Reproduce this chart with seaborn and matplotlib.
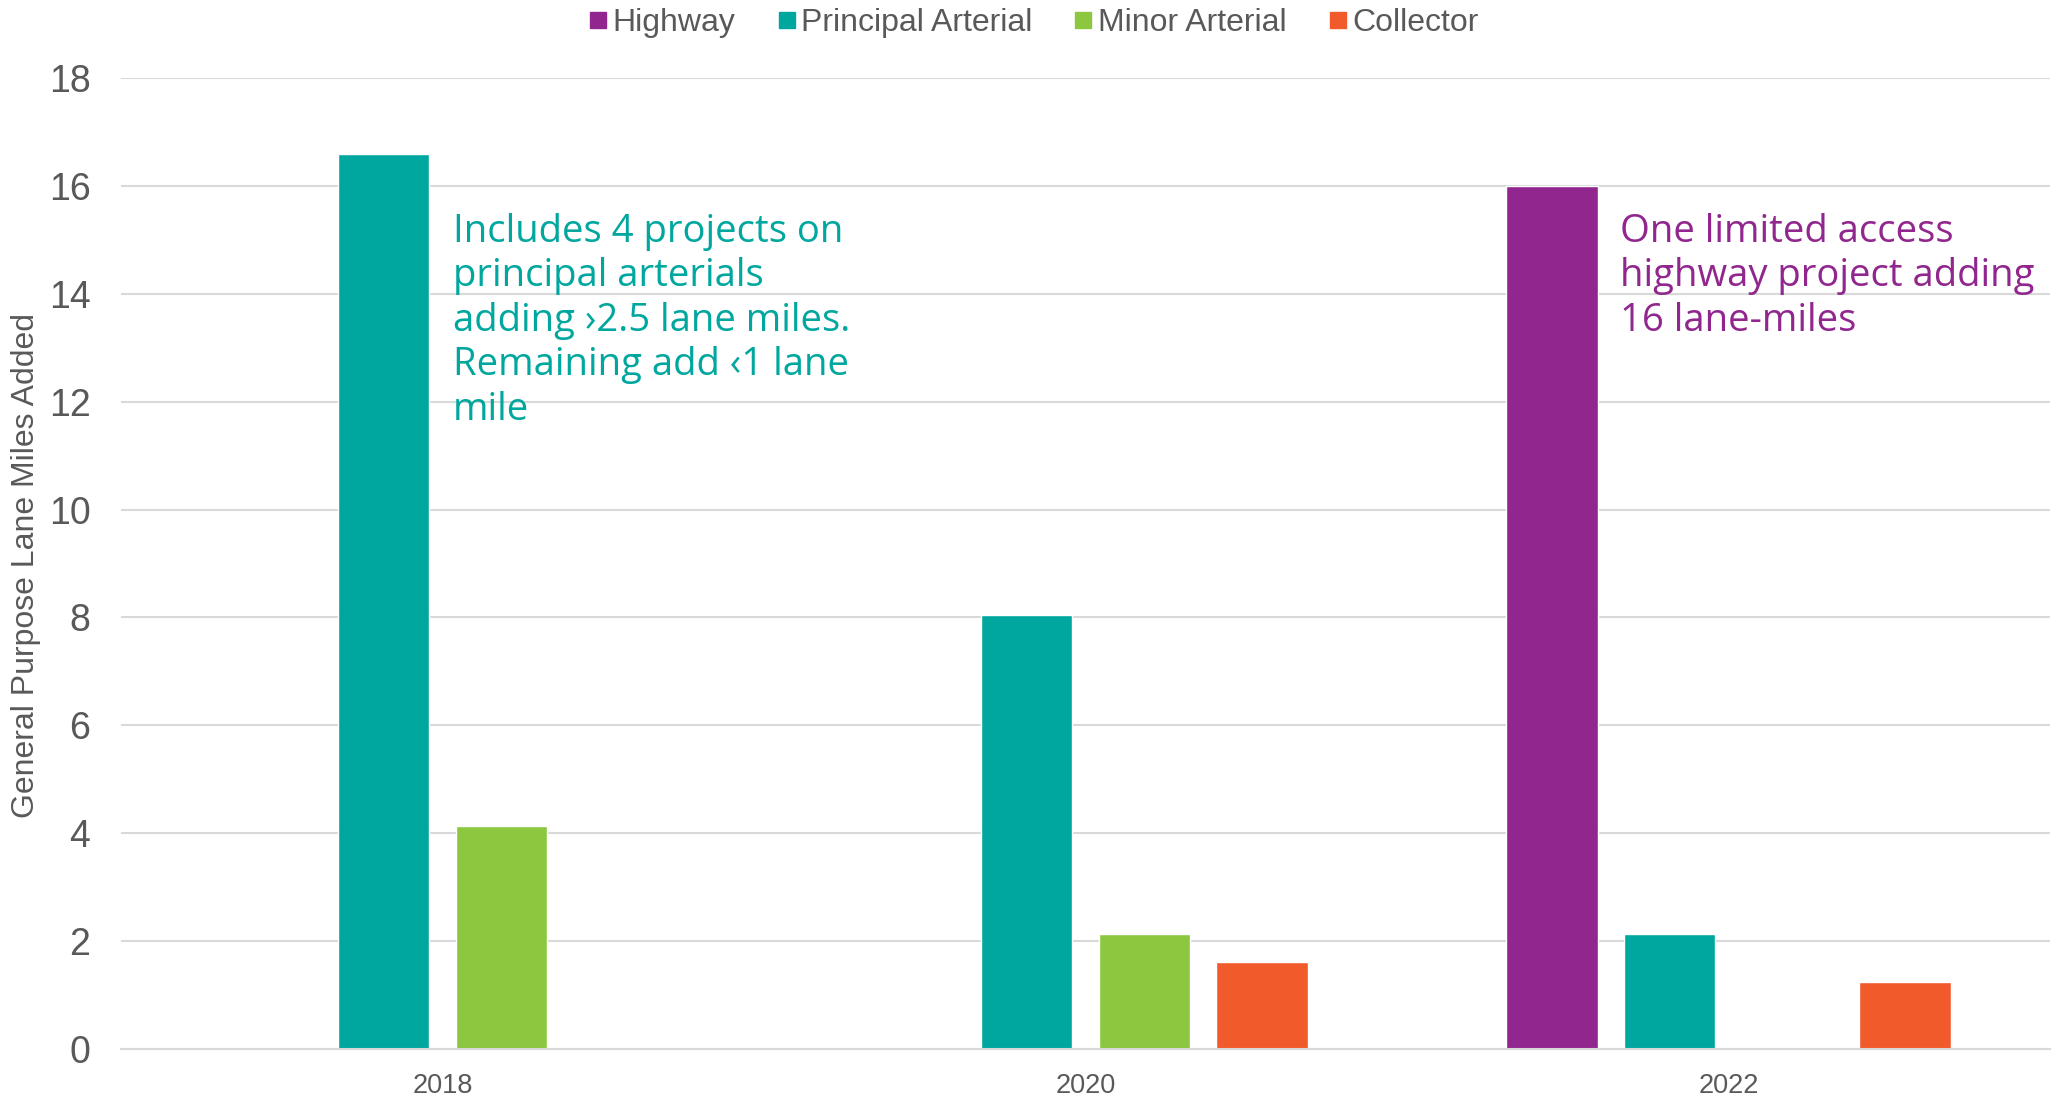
import matplotlib
matplotlib.use("Agg")
import matplotlib.pyplot as plt
from matplotlib.lines import Line2D
import seaborn as sns
import pandas as pd

# ---- data ----
years = ["2018", "2020", "2022"]
road_types = ["Highway", "Principal Arterial", "Minor Arterial", "Collector"]
highway = [None, None, 16.0]
principal_arterial = [16.6, 8.05, 2.13]
minor_arterial = [4.13, 2.14, None]
collector = [None, 1.62, 1.25]
y_ticks = [0, 2, 4, 6, 8, 10, 12, 14, 16, 18]
colors = ["#91278E", "#00A79E", "#8DC63F", "#F15A2B"]
note_left = ("Includes 4 projects on\nprincipal arterials\nadding \u203a2.5 lane miles.\n"
             "Remaining add \u20391 lane\nmile")
note_right = "One limited access\nhighway project adding\n16 lane-miles"
y_label = "General Purpose Lane Miles Added"

rows = []
for name, vals in zip(road_types, [highway, principal_arterial, minor_arterial, collector]):
    for yr, v in zip(years, vals):
        if v is not None:
            rows.append({"Year": yr, "Type": name, "Value": v})
df = pd.DataFrame(rows)

sns.set_theme(style="white")
plt.rcParams["font.family"] = ["Liberation Sans", "DejaVu Sans"]

fig = plt.figure(figsize=(20.67, 11.03), dpi=100)
ax = fig.add_axes([121 / 2067, 1 - 1049 / 1103, (2050 - 121) / 2067, (1049 - 78) / 1103])

sns.barplot(data=df, x="Year", y="Value", hue="Type", order=years, hue_order=road_types,
            palette=colors, width=0.732, gap=0.226, errorbar=None, ax=ax, legend=False,
            saturation=1)

ax.set_xlim(-0.5, 2.5)
ax.set_ylim(0, 18)
ax.set_yticks(y_ticks)
ax.set_yticklabels([str(t) for t in y_ticks])
ax.grid(axis="y", color="#D9D9D9", linewidth=1.5)
ax.set_axisbelow(True)
for s in ["top", "right", "left"]:
    ax.spines[s].set_visible(False)
ax.spines["bottom"].set_color("#D9D9D9")
ax.spines["bottom"].set_linewidth(1.5)
ax.tick_params(axis="y", length=0, pad=22, labelsize=27, labelcolor="#595959")
ax.tick_params(axis="x", length=0, pad=17, labelsize=19.5, labelcolor="#595959")
ax.set_xlabel("")
ax.set_ylabel(y_label, fontsize=23, color="#595959", va="center")
ax.yaxis.set_label_coords(-0.049, 0.498)

handles = [Line2D([0], [0], marker="s", linestyle="none", markersize=11,
                  markerfacecolor=c, markeredgecolor=c) for c in colors]
fig.legend(handles, road_types, loc="upper center", bbox_to_anchor=(0.5, 1.019), ncol=4,
           frameon=False, fontsize=23, labelcolor="#595959", handlelength=0.6,
           handletextpad=0.15, columnspacing=1.3)

fig.text(453 / 2067, 1 - 213 / 1103, note_left, color="#00A79E", fontsize=27.5,
         family=["Open Sans", "DejaVu Sans"], ha="left", va="top", linespacing=1.22)
fig.text(1620 / 2067, 1 - 213 / 1103, note_right, color="#91278E", fontsize=27.5,
         family=["Open Sans", "DejaVu Sans"], ha="left", va="top", linespacing=1.22)

fig.savefig("out.png", dpi=100)
